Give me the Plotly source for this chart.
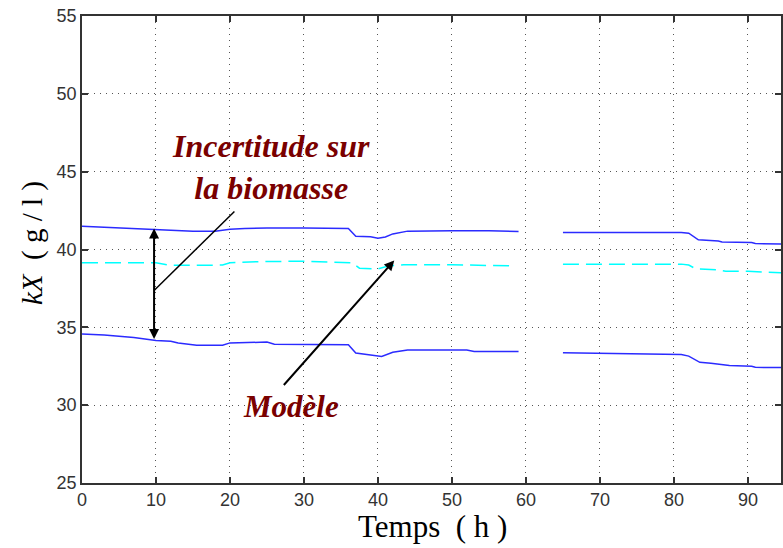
import plotly.graph_objects as go

# Upper uncertainty bound
x_up = [0, 1, 3, 6, 8, 10, 12, 13, 15, 18, 20, 22, 25, 30, 35, 36, 37, 39, 40, 41, 42, 44, 50, 55, 59,
        None, 65, 70, 75, 81, 82, 83.3, 86, 86.5, 90.5, 91, 94.5]
y_up = [41.5, 41.48, 41.45, 41.4, 41.35, 41.3, 41.28, 41.22, 41.18, 41.18, 41.3, 41.35, 41.38, 41.38, 41.38,
        41.35, 40.85, 40.82, 40.72, 40.8, 41.0, 41.18, 41.2, 41.2, 41.15,
        None, 41.1, 41.1, 41.1, 41.1, 41.05, 40.62, 40.55, 40.48, 40.45, 40.38, 40.35]

# Model (dashed cyan)
x_mod = [0, 10, 12, 19, 20, 24, 30, 35, 36.5, 37.5, 40, 41.5, 43.5, 50, 52.5, 54, 58,
         None, 65, 75, 81, 82, 83, 86, 87, 90, 93, 94.5]
y_mod = [39.15, 39.15, 38.98, 39.0, 39.15, 39.22, 39.25, 39.2, 39.15, 38.8, 38.75, 38.95, 39.02, 39.02,
         39.0, 38.95, 38.95,
         None, 39.06, 39.06, 39.06, 39.0, 38.75, 38.7, 38.6, 38.6, 38.55, 38.5]

# Lower uncertainty bound
x_lo = [0, 3, 7, 10, 12, 13, 15.5, 19, 20, 25, 26, 36, 37, 38.5, 40.5, 42, 44, 52, 53, 59,
        None, 65, 73, 75, 81, 82, 83.5, 85, 87.5, 90.5, 91, 94.5]
y_lo = [34.57, 34.5, 34.35, 34.15, 34.1, 34.0, 33.85, 33.85, 34.0, 34.05, 33.92, 33.88, 33.35, 33.25,
        33.13, 33.4, 33.55, 33.55, 33.45, 33.45,
        None, 33.37, 33.33, 33.28, 33.25, 33.15, 32.75, 32.7, 32.55, 32.5, 32.43, 32.42]

x_ticks = [0, 10, 20, 30, 40, 50, 60, 70, 80, 90]
y_ticks = [25, 30, 35, 40, 45, 50, 55]

fig = go.Figure()
fig.add_trace(go.Scatter(x=x_up, y=y_up, mode="lines", line=dict(color="#2b2bff", width=1.5),
                         connectgaps=False, showlegend=False))
fig.add_trace(go.Scatter(x=x_mod, y=y_mod, mode="lines", line=dict(color="#00ffff", width=1.5, dash="16px,7px"),
                         connectgaps=False, showlegend=False))
fig.add_trace(go.Scatter(x=x_lo, y=y_lo, mode="lines", line=dict(color="#2b2bff", width=1.5),
                         connectgaps=False, showlegend=False))

dark_red = "#7a0000"
ann = []
# double arrow
ann.append(dict(x=9.74, y=41.35, ax=9.74, ay=34.15, xref="x", yref="y", axref="x", ayref="y",
                text="", showarrow=True, arrowhead=2, startarrowhead=2, arrowside="end+start",
                arrowwidth=2, arrowsize=1, startarrowsize=1, arrowcolor="black"))
# arrow to model
ann.append(dict(x=42.2, y=39.3, ax=27.1, ay=31.2, xref="x", yref="y", axref="x", ayref="y",
                text="", showarrow=True, arrowhead=2, arrowwidth=2, arrowsize=1, arrowcolor="black"))
ann.append(dict(x=25.6, y=45.3, xref="x", yref="y", text="Incertitude sur<br>la biomasse",
                xanchor="center", yanchor="middle",
                showarrow=False, font=dict(family="Liberation Serif", size=32, color=dark_red,
                                           weight="bold", style="italic")))
ann.append(dict(x=28.25, y=29.92, xref="x", yref="y", text="Modèle",
                xanchor="center", yanchor="middle",
                showarrow=False, font=dict(family="Liberation Serif", size=31, color=dark_red,
                                           weight="bold", style="italic")))
# axis titles
ann.append(dict(x=0.502, y=-0.094, xref="paper", yref="paper", text="Temps  ( h )", showarrow=False,
                xanchor="center", yanchor="middle",
                font=dict(family="Liberation Serif", size=31, color="black")))
ann.append(dict(x=-0.07, y=0.514, xref="paper", yref="paper", text="<i>kX</i>  ( g / l )", showarrow=False,
                xanchor="center", yanchor="middle",
                textangle=-90, font=dict(family="Liberation Serif", size=29, color="black")))

fig.update_layout(
    width=783, height=548,
    margin=dict(l=82, r=0, t=16, b=65),
    paper_bgcolor="white", plot_bgcolor="white",
    annotations=ann,
    shapes=[dict(type="line", xref="x", yref="y", x0=20.6, y0=42.44, x1=9.74, y1=37.37,
                 line=dict(color="black", width=1.5))],
    showlegend=False,
)
axis_common = dict(showline=True, linecolor="#333333", linewidth=1.5, mirror="ticks",
                   ticks="inside", ticklen=6, tickcolor="#333333", tickwidth=1.5,
                   showgrid=True, gridcolor="#555555", gridwidth=1, griddash="1px,5px",
                   zeroline=False, tickfont=dict(family="Liberation Sans", size=18, color="#333333"))
fig.update_xaxes(range=[0, 94.47], tickvals=x_ticks, ticktext=[str(v) for v in x_ticks], **axis_common)
fig.update_yaxes(range=[25, 55], tickvals=y_ticks, ticktext=[str(v) for v in y_ticks], **axis_common)

fig.write_html("out.html")
